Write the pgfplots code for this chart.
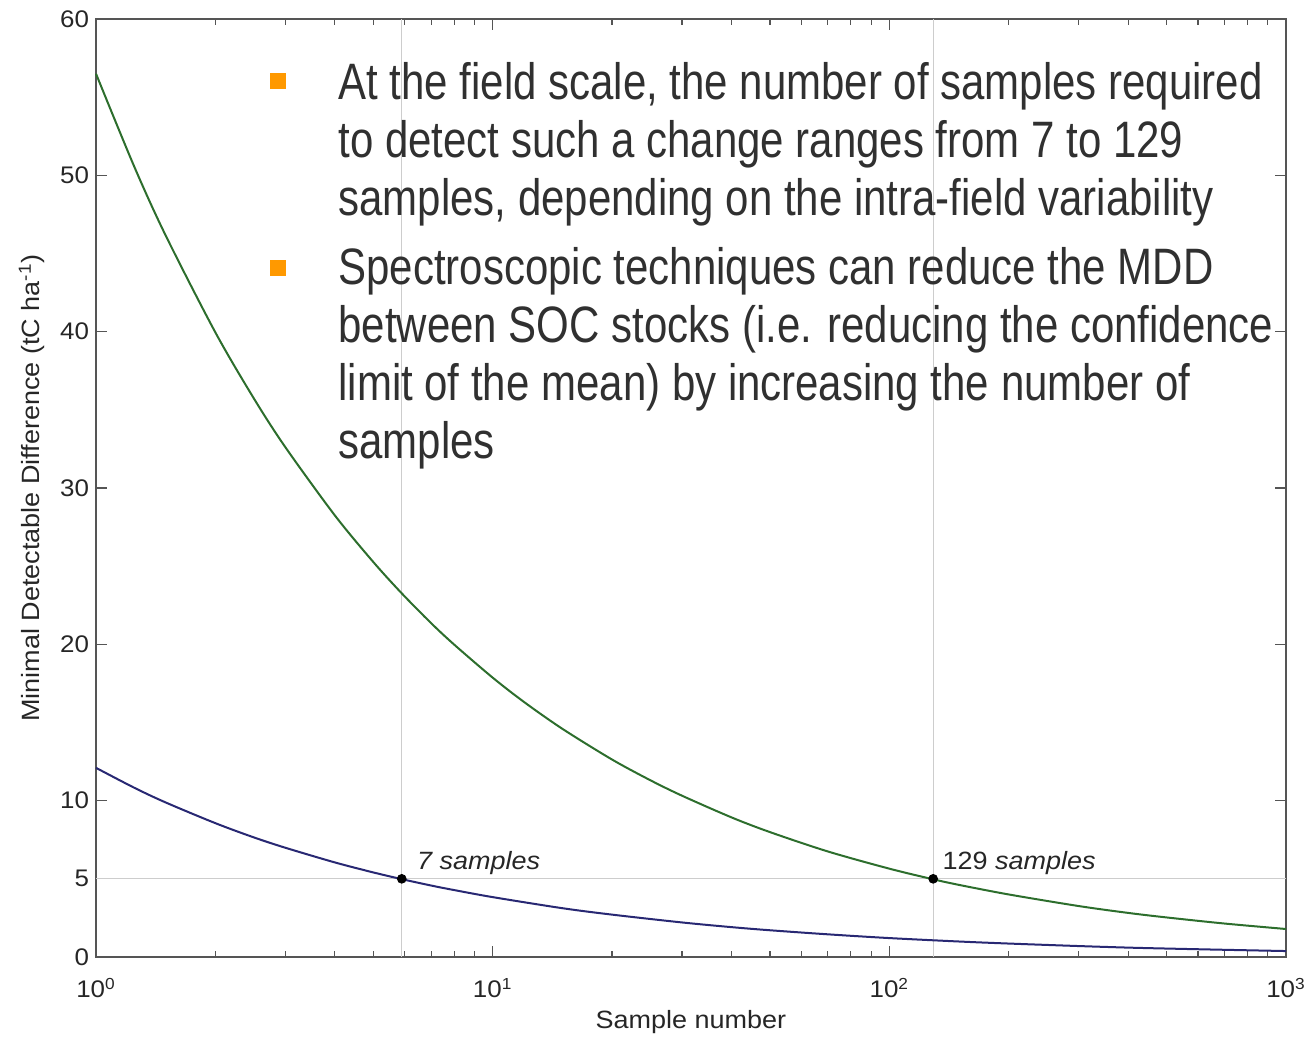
\documentclass[border=0pt]{standalone}
\usepackage{fontspec}
\setmainfont{Liberation Sans}
\newfontfamily\axfont[FakeStretch=1.08]{Liberation Sans}
\newfontfamily\bigfont[FakeStretch=0.82]{Liberation Sans}
\usepackage{pgfplots}
\pgfplotsset{compat=1.18}
\definecolor{gcurve}{RGB}{45,110,45}
\definecolor{bcurve}{RGB}{40,40,115}
\definecolor{gridc}{RGB}{205,205,205}
\definecolor{axc}{RGB}{85,85,85}
\definecolor{txt}{RGB}{48,48,48}
\definecolor{bul}{RGB}{255,153,0}
\begin{document}
\begin{tikzpicture}
\begin{axis}[
  xmode=log,
  scale only axis,
  width=595pt, height=469pt,
  xmin=1, xmax=1000, ymin=0, ymax=60,
  axis line style={axc, line width=0.75pt},
  every tick/.style={axc, line width=0.6pt},
  major tick length=5.5pt, minor tick length=3pt,
  xtick={1,10,100,1000},
  xticklabels={10\textsuperscript{0},10\textsuperscript{1},10\textsuperscript{2},10\textsuperscript{3}},
  ytick={0,5,10,20,30,40,50,60},
  yticklabels={0,5,10,20,30,40,50,60},
  ticklabel style={font=\axfont\fontsize{12}{14}\selectfont, text=black!85},
  xticklabel style={anchor=base, yshift=-20.5pt},
  label style={font=\axfont\fontsize{12.5}{15}\selectfont, text=black!85},
  xlabel={Sample number},
  ylabel={Minimal Detectable Difference (tC ha\textsuperscript{-1})},
  xlabel style={at={(axis description cs:0.5,-0.069)}, anchor=center},
  ylabel style={at={(axis description cs:-0.054,0.5)}, anchor=center},
  clip=false,
]
% reference lines
\addplot[gridc, line width=0.6pt] coordinates {(5.9,0) (5.9,60)};
\addplot[gridc, line width=0.6pt] coordinates {(129,0) (129,60)};
\addplot[gridc, line width=0.6pt] coordinates {(1,5) (1000,5)};
% green curve
\addplot[gcurve, line width=1pt, smooth] coordinates {
(1,56.50) (1.25,50.53) (1.5,46.13) (2,39.95) (2.5,35.73) (3,32.62) (4,28.25)
(5,25.27) (5.9,23.26) (7,21.35) (8,19.98) (10,17.87) (12,16.31) (15,14.59)
(20,12.63) (25,11.30) (30,10.32) (40,8.93) (50,7.99) (70,6.75) (100,5.65)
(129,4.97) (150,4.61) (200,4.00) (300,3.26) (400,2.82) (500,2.53) (700,2.14) (1000,1.79)};
% blue curve
\addplot[bcurve, line width=1pt, smooth] coordinates {
(1,12.10) (1.25,10.82) (1.5,9.88) (2,8.56) (2.5,7.65) (3,6.99) (4,6.05) (5,5.41)
(5.9,4.98) (7,4.57) (8,4.28) (10,3.83) (15,3.12) (20,2.71) (30,2.21) (40,1.91)
(50,1.71) (70,1.45) (100,1.21) (150,0.99) (200,0.86) (300,0.70) (400,0.60)
(500,0.54) (700,0.46) (1000,0.38)};
% marked points
\addplot[only marks, mark=*, mark size=2.2pt, black] coordinates {(5.9,5) (129,5)};
\node[anchor=base west, font=\axfont\itshape\fontsize{12.5}{15}\selectfont, text=black!85, inner sep=0pt]
  at (axis cs:5.9,5) [xshift=7.5pt, yshift=4.5pt] {7 samples};
\node[anchor=base west, font=\axfont\fontsize{12.5}{15}\selectfont, text=black!85, inner sep=0pt]
  at (axis cs:129,5) [xshift=4.5pt, yshift=4.5pt] {129 \textit{samples}};
\end{axis}
% overlay text
\fill[bul] (87pt,434pt) rectangle (95pt,442pt);
\fill[bul] (87pt,340.5pt) rectangle (95pt,348.5pt);
\node[anchor=base west, inner sep=0pt, align=left, text=txt,
  font=\bigfont\fontsize{25.6}{29}\selectfont] at (121pt,370.5pt)
  {At the field scale, the number of samples required\\to detect such a change ranges from 7 to 129\\samples, depending on the intra-field variability};
\node[anchor=base west, inner sep=0pt, align=left, text=txt,
  font=\bigfont\fontsize{25.6}{29}\selectfont] at (121pt,249pt)
  {Spectroscopic techniques can reduce the MDD\\between SOC stocks (i.e. reducing the confidence\\limit of the mean) by increasing the number of\\samples};
\pgfresetboundingbox
\path (-48pt,-40pt) rectangle (605.5pt,478.5pt);
\end{tikzpicture}
\end{document}
